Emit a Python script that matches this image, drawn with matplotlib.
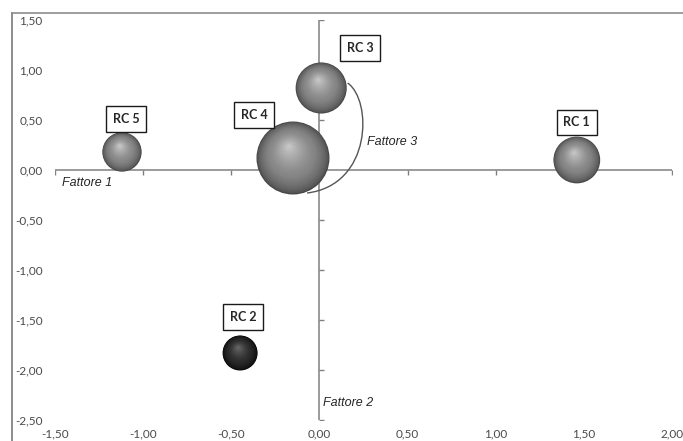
import numpy as np
import matplotlib
matplotlib.use("Agg")
import matplotlib.pyplot as plt
import matplotlib.markers as mmarkers
from matplotlib.transforms import offset_copy
from matplotlib.path import Path
from matplotlib.patches import PathPatch
from matplotlib.lines import Line2D

# bubble data: Fattore 1 (x), Fattore 2 (y), Fattore 3 (bubble size)
labels = ["RC 1", "RC 2", "RC 3", "RC 4", "RC 5"]
fattore1 = [1.46, -0.45, 0.01, -0.15, -1.12]
fattore2 = [0.10, -1.83, 0.82, 0.12, 0.18]
fattore3 = [0.41, 0.23, 0.49, 1.00, 0.29]
dark = [False, True, False, False, False]

xticks = [-1.5, -1.0, -0.5, 0.0, 0.5, 1.0, 1.5, 2.0]
xticklabels = ["-1,50", "-1,00", "-0,50", "0,00", "0,50", "1,00", "1,50", "2,00"]
yticks = [-2.5, -2.0, -1.5, -1.0, -0.5, 0.0, 0.5, 1.0, 1.5]
yticklabels = ["-2,50", "-2,00", "-1,50", "-1,00", "-0,50", "0,00", "0,50", "1,00", "1,50"]

# label box offsets from bubble centre (points)
label_offsets = [(0, 27), (2, 26), (28, 29), (-28, 31), (3, 24)]

fig = plt.figure(figsize=(6.83, 4.41), dpi=100)
fig.patch.set_facecolor("white")
ax = fig.add_axes([55 / 683, 21 / 441, 617 / 683, 400 / 441])
ax.set_xlim(-1.5, 2.0)
ax.set_ylim(-2.5, 1.5)
for s in ax.spines.values():
    s.set_visible(False)

ax.set_xticks(xticks)
ax.set_xticklabels(xticklabels)
ax.set_yticks(yticks)
ax.set_yticklabels(yticklabels)
ax.tick_params(length=0, labelsize=8.5, labelcolor="#4a4a4a")
ax.tick_params(axis="x", pad=6)
ax.tick_params(axis="y", pad=9)
for lab in ax.get_xticklabels() + ax.get_yticklabels():
    lab.set_fontfamily("Lato")

# axes through the origin, Excel style
axis_col = "#808080"
ax.axhline(0, color=axis_col, lw=1.1, zorder=1)
ax.axvline(0, color=axis_col, lw=1.1, zorder=1)
ax.plot(xticks, [0] * len(xticks), ls="none", marker=mmarkers.TICKDOWN,
        ms=3.5, mew=1.0, color=axis_col, zorder=1)
ax.plot([0] * len(yticks), yticks, ls="none", marker=mmarkers.TICKRIGHT,
        ms=3.5, mew=1.0, color=axis_col, zorder=1)

# shaded spheres
vmax = max(fattore3)
rmax_pt = 36.5 * 0.72
nlay = 40
for x, y, v, d in zip(fattore1, fattore2, fattore3, dark):
    R = rmax_pt * np.sqrt(v / vmax)
    if d:
        c_edge, c_mid, c_hi = np.array([0.03, 0.03, 0.03]), np.array([0.17, 0.17, 0.17]), np.array([0.42, 0.42, 0.42])
    else:
        c_edge, c_mid, c_hi = np.array([0.28, 0.28, 0.28]), np.array([0.52, 0.52, 0.52]), np.array([0.80, 0.80, 0.80])
    hx, hy = -0.12 * R, 0.33 * R
    for i in range(nlay):
        t = i / nlay
        r = R * (1 - t)
        if t < 0.35:
            c = c_edge + (c_mid - c_edge) * (t / 0.35) ** 0.6
        else:
            c = c_mid + (c_hi - c_mid) * ((t - 0.35) / 0.65) ** 1.3
        tr = offset_copy(ax.transData, fig=fig, x=hx * t, y=hy * t, units="points")
        ax.scatter([x], [y], s=(2 * r) ** 2, color=c, edgecolors="none",
                   transform=tr, zorder=3)

# label boxes
for lab, x, y, off in zip(labels, fattore1, fattore2, label_offsets):
    ax.annotate(lab, (x, y), xytext=off, textcoords="offset points",
                ha="center", va="center", fontsize=9, fontweight="bold",
                family="Lato", color="#262626", zorder=5,
                bbox=dict(boxstyle="square,pad=0.55", fc="white", ec="#1a1a1a", lw=1.0))

# Fattore 3 arc
verts = [(0.16, 0.87), (0.30, 0.70), (0.30, -0.15), (-0.07, -0.23)]
arc = Path(verts, [Path.MOVETO, Path.CURVE4, Path.CURVE4, Path.CURVE4])
ax.add_patch(PathPatch(arc, fc="none", ec="#555555", lw=1.0, zorder=2))

fkw = dict(fontsize=9, style="italic", family="Liberation Sans", color="#262626", va="center")
ax.text(-1.46, -0.13, "Fattore 1", **fkw)
ax.text(0.02, -2.33, "Fattore 2", **fkw)
ax.text(0.27, 0.28, "Fattore 3", **fkw)

# outer chart frame (left and top edges visible)
fx, fy = 12 / 683, 1 - 12.5 / 441
fig.add_artist(Line2D([fx, fx], [0, fy], color="#7a7a7a", lw=1.2))
fig.add_artist(Line2D([fx, 1], [fy, fy], color="#8c8c8c", lw=1.2))

fig.savefig("out.png", dpi=100)
